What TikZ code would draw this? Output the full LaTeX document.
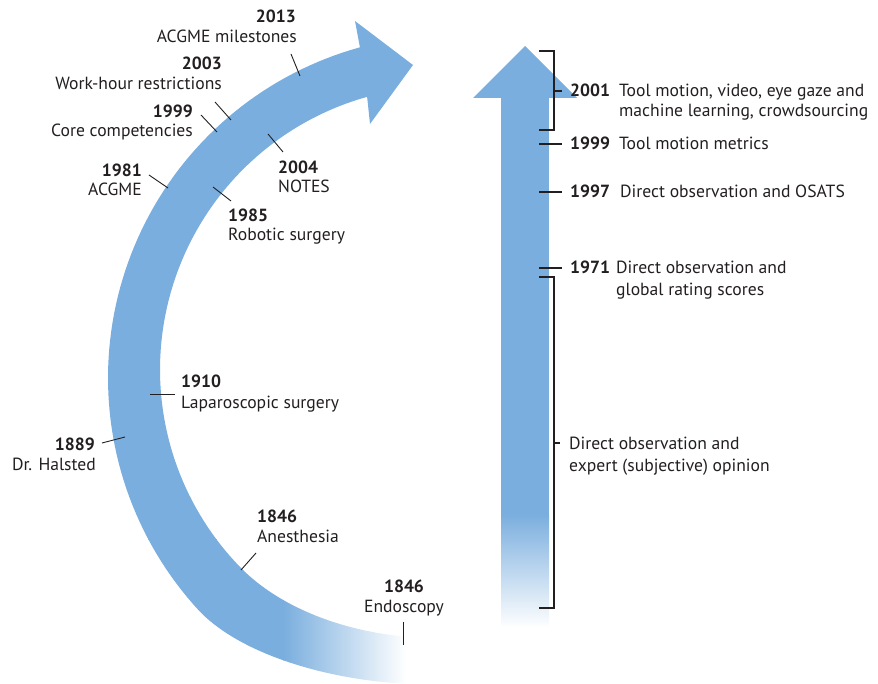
\documentclass[tikz,border=0pt]{standalone}
\usepackage{fontspec}
\setmainfont{PT Sans}
\definecolor{arrowblue}{RGB}{122,174,222}
\definecolor{txt}{RGB}{35,31,32}
\tikzset{
  yr/.style={font=\fontsize{17.6}{20}\selectfont\bfseries, inner sep=0pt, text=txt},
  lbl/.style={font=\fontsize{17.6}{20}\selectfont, inner sep=0pt, text=txt},
  tickline/.style={draw=txt, line width=0.9pt},
  brk/.style={draw=txt, line width=1.3pt}
}
\begin{document}
\begin{tikzpicture}[x=1pt,y=-1pt]
\useasboundingbox (0,0) rectangle (878,684);
% curved arrow
\begin{scope}
\clip plot[domain=105.4:222.7, samples=80] ({451+343*cos(\x)},{378-343*sin(\x)})
  .. controls (240.7,654.7) and (330,681) .. (412,684)
  -- (412,637)
  .. controls (350,633) and (281.8,610.1) .. (240,567)
  -- plot[domain=224.1:105.6, samples=80] ({443.3+283.3*cos(\x)},{369.7-283.3*sin(\x)})
  -- (370,124) -- (413,65) -- (355,21) -- cycle;
\fill[arrowblue] (0,0) rectangle (480,540);
\fill[arrowblue] (0,539) rectangle (284,690);
\shade[left color=arrowblue, middle color=arrowblue!55, right color=white] (283,540) rectangle (406,690);
\end{scope}
% vertical arrow
\fill[arrowblue] (501,97) rectangle (549,515);
\shade[top color=arrowblue, bottom color=white] (501,514) rectangle (549,628);
\fill[arrowblue] (473,98) -- (525,46) -- (577,98) -- cycle;

% ticks on curved arrow
\draw[tickline] (291,54) -- (300,76);
\draw[tickline] (215,102) -- (231,120);
\draw[tickline] (201,115) -- (217,132);
\draw[tickline] (268,134) -- (283,152);
\draw[tickline] (149,175) -- (168,188);
\draw[tickline] (213,187) -- (231,201);
\draw[tickline] (150,394) -- (175,394);
\draw[tickline] (102,443) -- (125,437);
\draw[tickline] (241,570) -- (256,553);
\draw[tickline] (403,622) -- (403,645);

% brackets and ticks on vertical arrow
\draw[brk] (539,51) -- (554,51) -- (554,130) -- (539,130);
\draw[brk] (554,91) -- (562,91);
\draw[brk] (539,144) -- (562,144);
\draw[brk] (539,192) -- (562,192);
\draw[brk] (539,268) -- (562,268);
\draw[brk] (539,277) -- (554,277) -- (554,608) -- (539,608);
\draw[brk] (554,443) -- (560,443);

% left labels
\node[yr, anchor=base east] (y2013) at (296,23) {2013};
\node[lbl, anchor=base east] (d2013) at (297,43) {ACGME milestones};
\node[yr, anchor=base east] (y2003) at (222,70) {2003};
\node[lbl, anchor=base east] (d2003) at (222,90) {Work-hour restrictions};
\node[yr, anchor=base east] (y1999a) at (193,118) {1999};
\node[lbl, anchor=base east] (d1999a) at (193,137) {Core competencies};
\node[yr, anchor=base east] (y1981) at (142,177) {1981};
\node[lbl, anchor=base east] (d1981) at (142,196) {ACGME};
\node[yr, anchor=base west] (y2004) at (278,174) {2004};
\node[lbl, anchor=base west] (d2004) at (278,193) {NOTES};
\node[yr, anchor=base west] (y1985) at (228,222) {1985};
\node[lbl, anchor=base west] (d1985) at (228,241) {Robotic surgery};
\node[yr, anchor=base west] (y1910) at (181,388) {1910};
\node[lbl, anchor=base west] (d1910) at (181,409) {Laparoscopic surgery};
\node[yr, anchor=base east] (y1889) at (95,450) {1889};
\node[lbl, anchor=base east] (d1889) at (96,470) {Dr. Halsted};
\node[yr, anchor=base west] (y1846a) at (257,522) {1846};
\node[lbl, anchor=base west] (d1846a) at (257,542) {Anesthesia};
\node[yr, anchor=base] (y1846b) at (404,592) {1846};
\node[lbl, anchor=base] (d1846b) at (404,612) {Endoscopy};

% right labels
\node[yr, anchor=base west] (y2001) at (570,97) {2001};
\node[lbl, anchor=base west] (d2001a) at (619,97) {Tool motion, video, eye gaze and};
\node[lbl, anchor=base west] (d2001b) at (619,117) {machine learning, crowdsourcing};
\node[yr, anchor=base west] (y1999b) at (570,150) {1999};
\node[lbl, anchor=base west] (d1999b) at (619,150) {Tool motion metrics};
\node[yr, anchor=base west] (y1997) at (570,198) {1997};
\node[lbl, anchor=base west] (d1997) at (620,198) {Direct observation and OSATS};
\node[yr, anchor=base west] (y1971) at (570,274) {1971};
\node[lbl, anchor=base west] (d1971a) at (616,274) {Direct observation and};
\node[lbl, anchor=base west] (d1971b) at (616,296) {global rating scores};
\node[lbl, anchor=base west] (dexpa) at (569,449) {Direct observation and};
\node[lbl, anchor=base west] (dexpb) at (569,471) {expert (subjective) opinion};
\end{tikzpicture}
\end{document}
